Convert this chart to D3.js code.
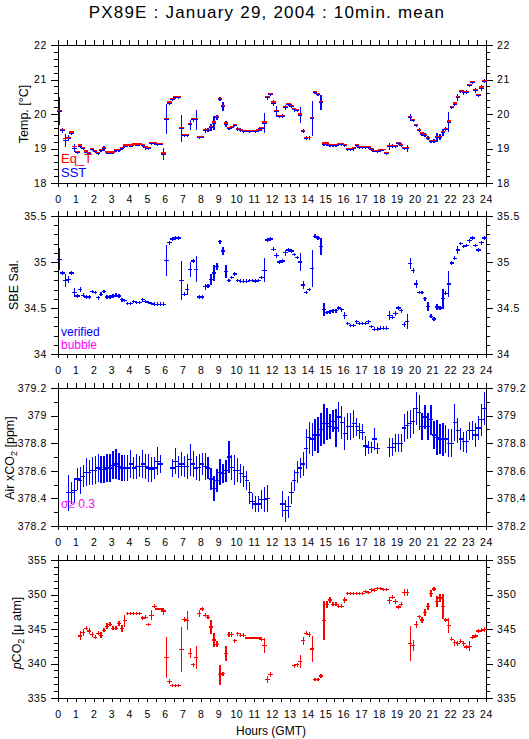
<!DOCTYPE html>
<meta charset="utf-8">
<style>
body { margin: 0; background: #fff; }
text { font-family: "Liberation Sans", Arial, Helvetica, sans-serif; }
.tick line { stroke: #000; shape-rendering: crispEdges; }
</style>
<body>
<script src="https://cdnjs.cloudflare.com/ajax/libs/d3/7.8.5/d3.min.js"></script>
<script>
// 10-min means, one slot per 10 minutes (144 slots), null = no data
var nSlots = 144;
var hours = d3.range(nSlots).map(function(k) { return (k + 0.5) / 6; });

var eqT = [
 20.10,19.55,19.28,19.33,19.48,19.05,18.92,19.10,19.03,18.93,18.88,19.00,
 18.94,18.88,18.97,19.03,18.90,18.90,18.90,18.97,18.97,19.03,19.10,19.10,
 19.10,19.13,19.13,19.13,19.12,19.05,19.03,19.17,19.17,19.15,19.15,18.87,
 19.88,20.35,20.45,20.50,20.50,19.60,19.40,19.40,19.72,19.86,19.86,19.35,
 19.35,19.55,19.55,19.64,19.77,19.93,20.46,20.25,19.74,19.60,19.64,19.69,
 19.59,19.56,19.53,19.53,19.53,19.53,19.53,19.56,19.60,19.77,20.50,20.60,
 20.35,20.10,19.96,19.96,20.22,20.30,20.25,20.15,20.12,20.00,19.53,19.33,
 19.33,19.90,20.66,20.60,20.37,19.16,19.16,19.11,19.11,19.11,19.14,19.14,
 19.12,19.00,19.00,19.02,19.11,19.06,19.06,19.06,19.06,19.01,18.95,18.95,
 18.98,18.98,18.89,19.09,19.09,19.09,19.17,19.12,19.03,19.03,19.93,19.84,
 19.70,19.56,19.45,19.41,19.33,19.24,19.24,19.35,19.35,19.50,19.59,19.80,
 20.22,20.32,20.51,20.69,20.66,20.66,20.85,20.95,20.71,20.57,20.78,20.98];

var sst = [
 20.08,19.52,19.24,19.30,19.45,19.01,18.89,19.07,19.00,18.90,18.86,18.97,
 18.91,18.85,18.94,19.00,18.88,18.87,18.88,18.95,18.94,19.00,19.07,19.08,
 19.07,19.11,19.10,19.11,19.09,19.02,19.00,19.14,19.15,19.12,19.13,18.84,
 19.85,20.32,20.42,20.47,20.48,19.57,19.38,19.37,19.69,19.83,19.84,19.32,
 19.33,19.52,19.53,19.61,19.74,19.90,20.43,20.22,19.71,19.58,19.61,19.67,
 19.56,19.53,19.50,19.51,19.50,19.51,19.50,19.53,19.57,19.74,20.47,20.57,
 20.32,20.07,19.93,19.94,20.19,20.27,20.22,20.12,20.10,19.97,19.50,19.30,
 19.31,19.87,20.63,20.57,20.34,19.13,19.13,19.09,19.08,19.08,19.11,19.12,
 19.09,18.97,18.98,18.99,19.08,19.04,19.03,19.04,19.03,18.98,18.93,18.92,
 18.95,18.96,18.86,19.06,19.07,19.06,19.14,19.10,19.00,19.00,19.90,19.81,
 19.67,19.53,19.42,19.39,19.30,19.21,19.22,19.32,19.33,19.47,19.56,19.77,
 20.19,20.29,20.48,20.66,20.63,20.64,20.82,20.92,20.68,20.54,20.75,20.95];

var sstErr = [
 .40,.06,.19,.08,.06,.12,.04,.05,.04,.04,.04,.05,
 .04,.04,.04,.06,.03,.03,.03,.04,.04,.05,.05,.04,
 .04,.04,.04,.04,.04,.05,.04,.04,.04,.04,.04,.17,
 .43,.05,.04,.04,.04,.39,.05,.04,.15,.05,.29,.05,
 .04,.06,.05,.10,.20,.06,.05,.12,.10,.05,.05,.05,
 .05,.05,.04,.04,.04,.04,.04,.05,.05,.30,.05,.05,
 .10,.15,.05,.05,.07,.05,.06,.05,.05,.23,.06,.05,
 .05,.50,.05,.05,.22,.06,.05,.04,.04,.04,.04,.05,
 .05,.04,.04,.05,.04,.04,.04,.04,.04,.04,.04,.04,
 .04,.04,.04,.10,.05,.05,.05,.05,.05,.11,.10,.05,
 .05,.05,.05,.05,.05,.05,.05,.13,.08,.10,.05,.30,
 .05,.05,.10,.05,.08,.05,.05,.05,.06,.05,.08,.06];

var sal = [
 35.03,34.88,34.80,34.81,34.88,34.67,34.63,34.70,34.64,34.62,34.62,34.68,
 34.67,34.61,34.65,34.68,34.62,34.62,34.63,34.64,34.63,34.59,34.58,34.55,
 34.55,34.57,34.56,34.56,34.59,34.57,34.56,34.55,34.54,34.54,34.54,34.54,
 35.02,35.21,35.25,35.26,35.26,34.80,34.65,34.70,34.92,35.01,34.92,34.62,
 34.62,34.73,34.74,34.81,34.88,34.95,35.22,35.12,34.90,34.80,34.83,34.87,
 34.80,34.79,34.79,34.79,34.80,34.80,34.79,34.80,34.83,34.91,35.24,35.25,
 35.14,35.07,35.00,35.01,35.10,35.13,35.12,35.08,35.05,35.00,34.75,34.67,
 34.70,34.93,35.28,35.26,35.17,34.48,34.45,34.46,34.47,34.47,34.50,34.48,
 34.42,34.33,34.31,34.31,34.35,34.33,34.33,34.33,34.35,34.30,34.27,34.27,
 34.28,34.28,34.28,34.42,34.40,34.44,34.50,34.47,34.32,34.35,34.98,34.91,
 34.76,34.67,34.67,34.60,34.52,34.41,34.38,34.51,34.50,34.60,34.66,34.76,
 34.99,35.04,35.13,35.20,35.17,35.18,35.23,35.26,35.18,35.13,35.21,35.26];

var salErr = [
 .12,.02,.07,.04,.02,.05,.02,.03,.02,.02,.02,.02,
 .02,.02,.02,.02,.02,.02,.02,.02,.02,.02,.02,.02,
 .02,.02,.02,.02,.02,.02,.02,.02,.02,.02,.02,.02,
 .17,.02,.02,.02,.02,.21,.02,.06,.08,.02,.14,.02,
 .02,.03,.02,.06,.09,.04,.02,.04,.07,.02,.02,.02,
 .02,.02,.02,.02,.02,.02,.02,.02,.02,.13,.02,.02,
 .02,.03,.02,.02,.03,.02,.02,.02,.02,.10,.04,.02,
 .02,.20,.02,.02,.09,.07,.02,.02,.02,.02,.02,.02,
 .04,.02,.02,.02,.02,.02,.02,.02,.02,.02,.02,.02,
 .02,.02,.02,.05,.02,.03,.02,.02,.03,.08,.06,.03,
 .04,.02,.02,.02,.05,.02,.02,.03,.02,.11,.02,.14,
 .02,.02,.04,.02,.02,.02,.02,.02,.02,.02,.02,.02];

var airCO2 = [
 null,null,null,378.44,378.44,378.46,378.54,378.53,378.56,378.59,378.59,378.60,
 378.605,378.62,378.61,378.61,378.62,378.62,378.64,378.65,378.63,378.62,378.62,378.62,
 378.65,378.62,378.63,378.63,378.65,378.63,378.62,378.61,378.62,378.67,378.65,null,
 null,null,378.62,378.67,378.63,378.65,378.63,378.63,378.68,378.65,378.62,378.625,
 378.65,378.63,378.62,378.54,378.47,378.53,378.59,378.58,378.60,378.70,378.625,378.605,
 378.605,378.58,378.56,378.53,378.44,378.38,378.36,378.36,378.39,378.39,378.40,null,
 null,null,null,378.36,378.31,378.34,378.44,378.53,378.59,378.62,378.65,378.76,
 378.84,378.83,378.86,378.86,378.90,378.94,378.94,378.92,378.96,378.91,378.99,378.95,
 378.87,378.92,378.92,378.94,378.92,378.89,378.88,378.78,378.77,378.77,378.83,378.76,
 null,null,null,378.77,378.77,378.80,378.80,378.80,378.91,378.93,378.94,378.96,
 379.05,379.02,378.92,378.99,378.92,378.97,378.86,378.84,378.83,378.83,378.83,378.80,
 378.80,378.95,378.89,378.83,378.81,378.81,378.89,378.89,378.86,378.91,378.97,379.05];

var airErr = [
 0,0,0,.13,.08,.09,.08,.10,.08,.10,.09,.10,
 .10,.10,.10,.10,.10,.10,.10,.11,.10,.095,.095,.095,
 .10,.08,.09,.075,.10,.09,.10,.09,.08,.10,.065,0,
 0,0,.065,.095,.08,.085,.075,.09,.115,.095,.09,.10,
 .08,.10,.08,.08,.09,.08,.095,.07,.08,.113,.09,.11,
 .085,.07,.075,.07,.08,.06,.055,.06,.07,.09,.10,0,
 0,0,0,.097,.08,.08,.08,.075,.08,.07,.085,.145,
 .115,.12,.115,.13,.12,.145,.115,.09,.08,.14,.11,.12,
 .12,.10,.10,.10,.065,.06,.06,.07,.045,.04,.08,.04,
 0,0,0,.067,.065,.065,.065,.065,.10,.10,.10,.095,
 .12,.127,.10,.09,.10,.11,.10,.127,.11,.12,.10,.10,
 .10,.133,.09,.08,.073,.08,.067,.07,.09,.09,.115,.12];

var pCO2 = [
 null,null,null,null,null,null,null,344.0,344.5,345.1,344.7,344.2,
 343.8,344.4,344.1,344.8,345.4,345.7,345.1,345.1,345.8,345.1,346.2,347.3,
 347.3,347.3,347.3,347.3,346.6,346.7,345.7,347.0,348.3,347.9,347.9,347.6,
 340.9,337.4,336.8,336.8,336.8,342.0,346.4,346.2,341.5,339.8,340.9,347.2,
 347.9,347.0,346.7,345.3,343.4,342.8,338.4,338.5,341.4,344.2,344.2,343.3,
 344.3,344.1,344.1,343.7,343.7,343.7,343.7,343.7,343.5,342.6,337.7,338.4,
 null,null,null,null,null,null,null,339.7,339.8,340.3,343.3,344.4,
 344.2,342.1,337.7,337.7,338.2,346.2,348.6,349.2,348.6,348.6,348.3,348.3,
 349.2,350.1,350.1,350.1,350.2,350.1,350.1,350.4,350.3,350.7,350.6,350.9,
 350.9,350.7,350.7,349.1,349.6,349.0,348.2,348.6,350.3,350.3,342.9,342.6,
 345.6,346.8,346.3,347.4,348.3,350.1,350.8,349.0,349.5,348.3,346.3,345.5,
 343.5,343.0,342.9,343.2,342.9,342.4,342.5,343.8,344.0,344.7,344.8,344.9];

var pCO2Err = [
 0,0,0,0,0,0,0,.65,.45,.3,.4,.3,
 .3,.3,.4,.3,.4,.3,.3,.3,.4,.5,.9,.2,
 .2,.2,.2,.2,.3,.3,.2,.7,.3,.2,.2,.5,
 3.0,.3,.2,.2,.2,3.3,.4,1.4,.7,.3,1.7,.5,
 .3,.3,.3,1.0,1.0,.4,1.45,.3,1.1,.3,.3,.3,
 .3,.3,.3,.2,.2,.2,.2,.2,.3,1.1,.5,.3,
 0,0,0,0,0,0,0,.3,.3,1.0,.6,.3,
 .3,1.9,.2,.2,.3,2.8,.5,.4,.3,.3,.3,.3,
 .4,.2,.2,.2,.2,.2,.2,.2,.2,.3,.3,.2,
 .2,.2,.2,.5,.3,.4,.3,.3,.5,.5,2.6,.8,
 .5,.3,.5,.5,.5,.5,.3,.8,.6,1.8,.3,1.1,
 .3,.4,.3,.3,.3,.3,.7,.3,.3,.3,.3,.4];

var hourTicks = d3.range(0, 25);
var tempTicks = [18, 19, 20, 21, 22];
var salTicks = [34, 34.5, 35, 35.5];
var airTicks = [378.2, 378.4, 378.6, 378.8, 379, 379.2];
var pco2Ticks = [335, 340, 345, 350, 355];

var RED = "#ff0000", BLUE = "#0000ff", MAGENTA = "#ff00ff";

var W = 529, H = 739;
var x0 = 58, x1 = 486, ph = 138;
var dash = 2.2;

var svg = d3.select("body").append("svg")
	.attr("width", W)
	.attr("height", H);

var x = d3.scaleLinear().domain([0, 24]).range([x0, x1]);

svg.append("text")
	.attr("x", 267).attr("y", 17.5)
	.attr("text-anchor", "middle")
	.style("font-size", "17px")
	.style("letter-spacing", "1.2px")
	.text("PX89E : January 29, 2004 : 10min. mean");

var panels = [
	{top: 45, ticks: tempTicks, minor: 0.2,
	 series: [{v: sst, e: sstErr, c: BLUE}, {v: eqT, e: null, c: RED}]},
	{top: 216, ticks: salTicks, minor: 0.1,
	 series: [{v: sal, e: salErr, c: BLUE}]},
	{top: 388, ticks: airTicks, minor: 0.1,
	 series: [{v: airCO2, e: airErr, c: BLUE}]},
	{top: 560, ticks: pco2Ticks, minor: 1,
	 series: [{v: pCO2, e: pCO2Err, c: RED}]}
];

var fmt = function(d) { return String(+d.toFixed(1)); };

panels.forEach(function(p, pi) {
	var lo = p.ticks[0], hi = p.ticks[p.ticks.length - 1];
	var y = d3.scaleLinear().domain([lo, hi]).range([p.top + ph, p.top]);
	var minorTicks = d3.range(lo, hi + p.minor / 2, p.minor);
	var g = svg.append("g");

	// axes
	function addAxis(axis, tx, ty) {
		var a = g.append("g").attr("transform", "translate(" + tx + "," + ty + ")").call(axis);
		a.select(".domain").remove();
		a.selectAll("text").style("font-size", "10.5px").style("letter-spacing", "0.6px")
			.style("font-family", '"Liberation Sans", Arial, sans-serif').attr("fill", "#000");
		return a;
	}
	addAxis(d3.axisLeft(y).tickValues(minorTicks).tickSize(4).tickFormat(""), x0, 0);
	addAxis(d3.axisLeft(y).tickValues(p.ticks).tickSize(7).tickPadding(4).tickFormat(fmt), x0, 0);
	addAxis(d3.axisRight(y).tickValues(minorTicks).tickSize(4).tickFormat(""), x1, 0);
	addAxis(d3.axisRight(y).tickValues(p.ticks).tickSize(7).tickPadding(4).tickFormat(fmt), x1, 0);
	addAxis(d3.axisTop(x).tickValues(d3.range(0, 24.01, 0.5)).tickSize(5).tickFormat(""), 0, p.top);
	addAxis(d3.axisBottom(x).tickValues(d3.range(0, 24.01, 0.5)).tickSize(4).tickFormat(""), 0, p.top + ph);
	addAxis(d3.axisBottom(x).tickValues(hourTicks).tickSize(4).tickPadding(9).tickFormat(d3.format("d")), 0, p.top + ph);

	g.append("rect")
		.attr("x", x0).attr("y", p.top)
		.attr("width", x1 - x0).attr("height", ph)
		.attr("fill", "none").attr("stroke", "#000")
		.attr("shape-rendering", "crispEdges");

	// marks
	p.series.forEach(function(s) {
		var pts = hours.map(function(h, k) { return {h: h, v: s.v[k], e: s.e ? s.e[k] : 0}; })
			.filter(function(d) { return d.v !== null; });
		var sg = g.append("g").attr("stroke", s.c).attr("stroke-width", 1.2)
			.attr("shape-rendering", "crispEdges");
		if (s.e) {
			sg.selectAll("line.err").data(pts).enter().append("line")
				.attr("class", "err")
				.attr("x1", function(d) { return x(d.h); })
				.attr("x2", function(d) { return x(d.h); })
				.attr("y1", function(d) { return y(d.v - d.e); })
				.attr("y2", function(d) { return y(d.v + d.e); });
		}
		sg.selectAll("line.dash").data(pts).enter().append("line")
			.attr("class", "dash")
			.attr("x1", function(d) { return x(d.h) - dash; })
			.attr("x2", function(d) { return x(d.h) + dash; })
			.attr("y1", function(d) { return y(d.v); })
			.attr("y2", function(d) { return y(d.v); });
	});
});

// y axis titles, baseline x chosen per panel
function yTitle(bx, cy, build) {
	var t = svg.append("text")
		.attr("transform", "translate(" + bx + "," + cy + ") rotate(-90)")
		.attr("text-anchor", "middle")
		.style("font-size", "12.5px");
	build(t);
}
yTitle(28, 114, function(t) { t.text("Temp. [°C]"); });
yTitle(18, 285, function(t) { t.text("SBE Sal."); });
yTitle(14, 458, function(t) {
	t.append("tspan").text("Air xCO");
	t.append("tspan").attr("dy", 3).style("font-size", "9px").text("2");
	t.append("tspan").attr("dy", -3).text(" [ppm]");
});
yTitle(21, 633, function(t) {
	t.append("tspan").style("font-style", "italic").text("p");
	t.append("tspan").text("CO");
	t.append("tspan").attr("dy", 3).style("font-size", "9px").text("2");
	t.append("tspan").attr("dy", -3).text(" [\u03bc atm]");
});

// legends
function note(tx, ty, c, s, size) {
	svg.append("text").attr("x", tx).attr("y", ty).attr("fill", c)
		.style("font-size", size).text(s);
}
note(61, 162.5, RED, "Eq_T", "13px");
note(61, 176.5, BLUE, "SST", "13px");
note(61, 336, BLUE, "verified", "12px");
note(61, 349, MAGENTA, "bubble", "12px");
note(61, 508, MAGENTA, "\u03c3\u2265 0.3", "12px");

svg.append("text")
	.attr("x", 271).attr("y", 735)
	.attr("text-anchor", "middle")
	.style("font-size", "12px")
	.text("Hours (GMT)");
</script>
</body>
